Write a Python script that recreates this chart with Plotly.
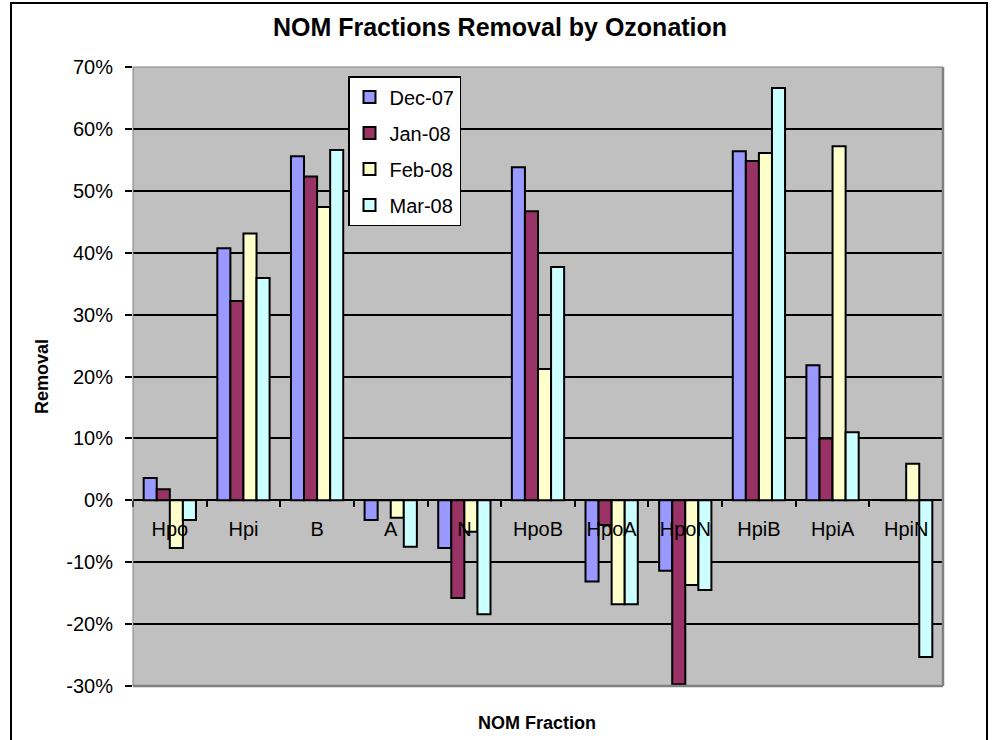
import plotly.graph_objects as go

categories = ["Hpo", "Hpi", "B", "A", "N", "HpoB", "HpoA", "HpoN", "HpiB", "HpiA", "HpiN"]
series_names = ["Dec-07", "Jan-08", "Feb-08", "Mar-08"]
dec_07 = [0.036, 0.407, 0.556, -0.032, -0.077, 0.538, -0.131, -0.114, 0.564, 0.218, 0.0]
jan_08 = [0.018, 0.322, 0.523, 0.0, -0.158, 0.467, -0.040, -0.297, 0.548, 0.100, 0.0]
feb_08 = [-0.077, 0.431, 0.474, -0.028, -0.051, 0.212, -0.168, -0.137, 0.561, 0.572, 0.059]
mar_08 = [-0.032, 0.359, 0.566, -0.075, -0.184, 0.377, -0.168, -0.145, 0.666, 0.110, -0.253]
colors = ["#9999FF", "#993366", "#FFFFCC", "#CCFFFF"]

y_tickvals = [-0.3, -0.2, -0.1, 0.0, 0.1, 0.2, 0.3, 0.4, 0.5, 0.6, 0.7]
y_ticktext = ["-30%", "-20%", "-10%", "0%", "10%", "20%", "30%", "40%", "50%", "60%", "70%"]

FONT = "Arial, Liberation Sans, sans-serif"

fig = go.Figure()
for name, vals, col in zip(series_names, [dec_07, jan_08, feb_08, mar_08], colors):
    fig.add_trace(go.Bar(
        x=categories, y=vals, name=name, legendgroup=name,
        marker=dict(color=col, line=dict(color="black", width=2)),
    ))

L, R, T, B = 133, 54, 67, 54
W, H = 997, 740
pw = W - L - R
ph = H - T - B

def px_x(x):
    return (x - L) / pw

def px_y(y):
    return (H - B - y) / ph

fig.update_layout(
    width=W, height=H,
    margin=dict(l=L, r=R, t=T, b=B),
    paper_bgcolor="white",
    plot_bgcolor="#C0C0C0",
    barmode="group",
    bargap=0.29,
    bargroupgap=0.0,
    font=dict(family=FONT, color="black"),
    title=dict(text="<b>NOM Fractions Removal by Ozonation</b>",
               x=500 / W, xanchor="center", y=1 - 27 / H, yanchor="middle",
               font=dict(size=25, family=FONT, color="black")),
    legend=dict(x=px_x(348), xanchor="left", y=px_y(76), yanchor="top",
                bgcolor="white", bordercolor="black", borderwidth=1.5,
                font=dict(size=20, family=FONT, color="black"),
                traceorder="grouped", tracegroupgap=7, itemwidth=30),
    xaxis=dict(
        type="category", anchor="free", position=0.3,
        showline=False, showgrid=False, zeroline=False,
        ticks="outside", tickson="boundaries", ticklen=6, tickwidth=1.5, tickcolor="black",
        tickfont=dict(size=20, family=FONT, color="black"),
        ticklabelstandoff=15,
    ),
    yaxis=dict(
        range=[-0.3, 0.7],
        tickvals=y_tickvals, ticktext=y_ticktext,
        showgrid=True, gridcolor="black", gridwidth=2,
        zeroline=True, zerolinecolor="black", zerolinewidth=2,
        showline=False,
        ticks="outside", ticklen=7, tickwidth=2, tickcolor="black",
        tickfont=dict(size=20, family=FONT, color="black"),
        ticklabelstandoff=8,
    ),
    showlegend=True,
)

# plot-area border (gray, heavier on right & bottom)
fig.add_shape(type="rect", xref="paper", yref="paper", x0=0, x1=1, y0=0, y1=1,
              line=dict(color="#808080", width=1), layer="above")
fig.add_shape(type="line", xref="paper", yref="paper", x0=1, x1=1, y0=0, y1=1,
              line=dict(color="#808080", width=2.5), layer="above")
fig.add_shape(type="line", xref="paper", yref="paper", x0=0, x1=1, y0=0, y1=0,
              line=dict(color="#808080", width=2.5), layer="above")
# outer chart frame
fig.add_shape(type="rect", xref="paper", yref="paper",
              x0=px_x(11), x1=px_x(987), y0=px_y(760), y1=px_y(3),
              line=dict(color="black", width=2))

# axis titles
fig.add_annotation(text="<b>NOM Fraction</b>", xref="paper", yref="paper",
                   x=px_x(537), y=px_y(723), showarrow=False,
                   xanchor="center", yanchor="middle",
                   font=dict(size=18, family=FONT, color="black"))
fig.add_annotation(text="<b>Removal</b>", xref="paper", yref="paper",
                   x=px_x(42), y=px_y(377), showarrow=False, textangle=-90,
                   xanchor="center", yanchor="middle",
                   font=dict(size=18, family=FONT, color="black"))

fig.write_html("out.html", config={"displayModeBar": False},
               post_script="document.body.style.margin='0px';")
